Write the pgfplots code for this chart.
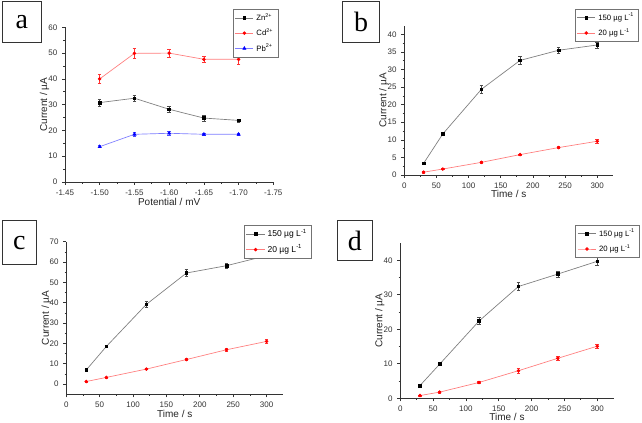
\documentclass[border=0pt]{standalone}
\usepackage{fontspec}
\setmainfont{Liberation Sans}
\newfontfamily\seriffont{Liberation Serif}
\usepackage{pgfplots}
\pgfplotsset{compat=1.18}
\definecolor{lgray}{RGB}{125,125,125}
\definecolor{lred}{RGB}{255,125,125}
\definecolor{lblue}{RGB}{125,125,255}
\newcommand{\lblfont}{\fontsize{7.5}{8.5}\selectfont\color{black!85}}
\pgfplotsset{
  panel/.style={
    scale only axis, anchor=south west,
    axis x line*=bottom, axis y line*=left,
    tick align=outside,
    major tick length=2.2pt, minor tick length=1.2pt,
    minor tick num=1,
    every tick/.style={black!80, line width=0.5pt},
    axis line style={black!80, line width=0.6pt},
    tick label style={font=\fontsize{6}{6.5}\selectfont, text=black!80},
    /pgf/number format/assume math mode=true,
    clip=false,
    legend cell align=left,
    legend style={font=\fontsize{5.8}{6.5}\selectfont, draw=black!55, line width=0.4pt,
      inner xsep=1.5pt, inner ysep=1pt, row sep=0.6pt},
    legend image code/.code={\draw[mark repeat=2,mark phase=2] plot coordinates {(0cm,0cm) (0.24cm,0cm) (0.48cm,0cm)};},
    error bars/y dir=both, error bars/y explicit,
    error bars/error mark options={rotate=90, mark size=1.3pt, line width=0.4pt},
    error bars/error bar style={line width=0.4pt},
  },
  blk/.style={color=lgray, line width=0.5pt, mark=square*, mark size=1.0pt,
    mark options={black, fill=black}, error bars/error bar style={black!70, line width=0.4pt}},
  rd/.style={color=lred, line width=0.5pt, mark=*, mark size=1.05pt,
    mark options={red, fill=red}, error bars/error bar style={red!80, line width=0.4pt}},
  bl/.style={color=lblue, line width=0.5pt, mark=triangle*, mark size=1.3pt,
    mark options={blue, fill=blue}, error bars/error bar style={blue!70, line width=0.4pt}},
}
\begin{document}
\begin{tikzpicture}
\useasboundingbox (0pt,0pt) rectangle (481.5pt,317.25pt);
\fill[white] (0pt,0pt) rectangle (481.5pt,317.25pt);
% letter boxes
\tikzset{letterbox/.style={draw=black!80, line width=0.8pt, anchor=south west, inner sep=0pt,
  font=\seriffont\fontsize{21}{21}\selectfont}}
\node[letterbox, minimum width=29.2pt, minimum height=31.2pt] at (1.3pt,284.8pt) {a};
\node[letterbox, minimum width=28.2pt, minimum height=31.2pt] at (256.3pt,284.8pt) {b};
\node[letterbox, minimum width=25.5pt, minimum height=33.2pt] at (1.3pt,118.3pt) {c};
\node[letterbox, minimum width=26.5pt, minimum height=30.2pt] at (252.5pt,121.3pt) {d};

% panel a
\begin{axis}[panel, at={(48.75pt,180.75pt)}, width=156.25pt, height=116pt,
  xmin=-1.75, xmax=-1.45, x dir=reverse, ymin=0, ymax=60,
  xtick={-1.75,-1.7,-1.65,-1.6,-1.55,-1.5,-1.45}, ytick={0,10,...,60},
  xticklabel style={/pgf/number format/.cd, fixed, fixed zerofill, precision=2},
  xlabel={Potential / mV}, ylabel={Current / µA},
  every axis x label/.style={at={(axis description cs:0.5,-0.127)}, anchor=center, font=\lblfont},
  every axis y label/.style={at={(axis description cs:-0.098,0.5)}, rotate=90, anchor=center, font=\lblfont},
  legend style={at={(axis description cs:1.023,1.118)}, anchor=north east},
]
\addplot[blk] table[x=x, y=y, y error=e] {
x y e
-1.50 30.8 1.3
-1.55 32.5 1.1
-1.60 28.2 1.1
-1.65 24.8 1.2
-1.70 23.9 0.6
};
\addlegendentry{Zn\textsuperscript{2+}}
\addplot[rd] table[x=x, y=y, y error=e] {
x y e
-1.50 40.0 1.8
-1.55 49.9 2.0
-1.60 50.0 1.6
-1.65 47.6 1.0
-1.70 47.6 1.8
};
\addlegendentry{Cd\textsuperscript{2+}}
\addplot[bl] table[x=x, y=y, y error=e] {
x y e
-1.50 13.7 0.4
-1.55 18.5 0.6
-1.60 18.9 0.7
-1.65 18.5 0.5
-1.70 18.5 0.5
};
\addlegendentry{Pb\textsuperscript{2+}}
\end{axis}

% panel b
\begin{axis}[panel, at={(303.2pt,186pt)}, width=156.75pt, height=112pt,
  xmin=0, xmax=325, ymin=0, ymax=42.5,
  xtick={0,50,...,300}, ytick={0,5,...,40},
  xlabel={Time / s}, ylabel={Current / µA},
  every axis x label/.style={at={(axis description cs:0.5,-0.127)}, anchor=center, font=\lblfont},
  every axis y label/.style={at={(axis description cs:-0.098,0.5)}, rotate=90, anchor=center, font=\lblfont},
  legend style={at={(axis description cs:1.123,1.112)}, anchor=north east},
]
\addplot[blk] table[x=x, y=y, y error=e] {
x y e
30 3.3 0.3
60 11.7 0.4
120 24.4 1.0
180 32.6 1.1
240 35.5 0.9
300 37.0 0.9
};
\addlegendentry{150 µg L\textsuperscript{-1}}
\addplot[rd] table[x=x, y=y, y error=e] {
x y e
30 0.8 0.2
60 1.7 0.2
120 3.6 0.2
180 5.8 0.2
240 7.8 0.3
300 9.6 0.6
};
\addlegendentry{20 µg L\textsuperscript{-1}}
\end{axis}

% panel c
\begin{axis}[panel, at={(49.7pt,21.5pt)}, width=162.75pt, height=114.5pt,
  xmin=0, xmax=325, ymin=-5, ymax=70,
  xtick={0,50,...,300}, ytick={0,10,...,70},
  xlabel={Time / s}, ylabel={Current / µA},
  every axis x label/.style={at={(axis description cs:0.5,-0.127)}, anchor=center, font=\lblfont},
  every axis y label/.style={at={(axis description cs:-0.092,0.5)}, rotate=90, anchor=center, font=\lblfont},
  legend style={at={(axis description cs:1.132,1.109)}, anchor=north east, font=\fontsize{6.4}{7}\selectfont},
]
\addplot[blk] table[x=x, y=y, y error=e] {
x y e
30 7.0 0.4
60 18.5 0.5
120 39.2 1.4
180 54.6 1.8
240 58.2 1.3
300 63.1 1.1
};
\addlegendentry{150 µg L\textsuperscript{-1}}
\addplot[rd] table[x=x, y=y, y error=e] {
x y e
30 1.3 0.3
60 3.3 0.3
120 7.4 0.3
180 12.1 0.4
240 16.9 0.6
300 21.0 0.9
};
\addlegendentry{20 µg L\textsuperscript{-1}}
\end{axis}

% panel d
\begin{axis}[panel, at={(300.2pt,18.5pt)}, width=160pt, height=116.5pt,
  xmin=0, xmax=325, ymin=0, ymax=45,
  xtick={0,50,...,300}, ytick={0,10,...,40},
  xlabel={Time / s}, ylabel={Current / µA},
  every axis x label/.style={at={(axis description cs:0.5,-0.122)}, anchor=center, font=\lblfont},
  every axis y label/.style={at={(axis description cs:-0.096,0.5)}, rotate=90, anchor=center, font=\lblfont},
  legend style={at={(axis description cs:1.123,1.116)}, anchor=north east},
]
\addplot[blk] table[x=x, y=y, y error=e] {
x y e
30 3.7 0.3
60 9.9 0.3
120 22.4 1.0
180 32.4 1.1
240 36.0 0.9
300 39.7 1.1
};
\addlegendentry{150 µg L\textsuperscript{-1}}
\addplot[rd] table[x=x, y=y, y error=e] {
x y e
30 0.8 0.2
60 1.8 0.2
120 4.6 0.3
180 8.0 0.6
240 11.6 0.7
300 15.1 0.6
};
\addlegendentry{20 µg L\textsuperscript{-1}}
\end{axis}
\end{tikzpicture}
\end{document}
